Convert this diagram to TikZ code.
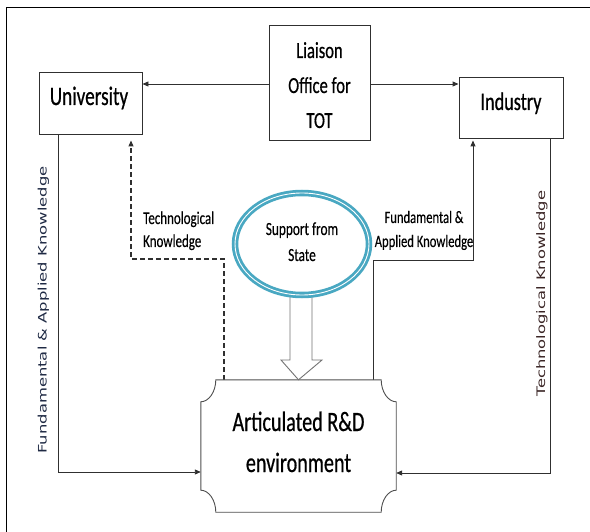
\documentclass[tikz,border=0pt]{standalone}
\usepackage{fontspec}
\setmainfont{Carlito}
\newfontfamily\cf[FakeStretch=0.72,FakeBold=0.25]{Carlito}
\newfontfamily\cfb[FakeStretch=0.72,FakeBold=0.6]{Carlito}
\newfontfamily\vf[FakeStretch=1.4]{DejaVu Sans}
\usetikzlibrary{arrows.meta,shapes.geometric,calc}
\definecolor{ring}{HTML}{49A8C2}
\definecolor{ln}{HTML}{303030}
\definecolor{navytxt}{HTML}{1F2A44}
\definecolor{browntxt}{HTML}{3B2626}
\begin{document}
\begin{tikzpicture}[x=1pt,y=-1pt,
  box/.style={draw=ln, line width=0.9pt, rectangle, inner sep=0pt},
  arr/.style={draw=ln, line width=0.9pt, -{Triangle[length=6pt,width=5pt]}},
  txt/.style={inner sep=0pt, anchor=base, align=center, text=black},
  vtxt/.style={inner sep=0pt, anchor=base, rotate=90, font=\vf\fontsize{11.7}{14}\selectfont}]
\useasboundingbox (0,0) rectangle (590,532);
% frame
\draw[line width=1.5pt, black] (6.5,532) -- (6.5,7.5) -- (590,7.5);

% boxes
\node[box, minimum width=103pt, minimum height=62pt] (univ) at (90.5,103) {};
\node[txt, font=\cfb\fontsize{26.7}{32}\selectfont] (univt) at (89,105) {University};
\node[box, minimum width=101pt, minimum height=115pt] (lia) at (319.5,82.5) {};
\node[txt, font=\cfb\fontsize{23}{35}\selectfont] (liat) at (319.5,128) {Liaison\\Office for\\TOT};
\node[box, minimum width=104pt, minimum height=61pt] (ind) at (511,107.5) {};
\node[txt, font=\cfb\fontsize{25.3}{30}\selectfont] (indt) at (511,110) {Industry};

% R&D plaque
\node[minimum width=195pt, minimum height=132pt, inner sep=0pt] (rd) at (298.5,446) {};

% coordinates
\coordinate (ay) at (0,84);
\coordinate (lx) at (58,472);
\coordinate (rx) at (550,473);
\coordinate (d1) at (224,259);
\coordinate (d2) at (131,259);
\coordinate (s1) at (373,260);
\coordinate (s2) at (473,260);

% connectors
\draw[arr] (lia.west |- ay) -- (univ.east |- ay);
\draw[arr] (lia.east |- ay) -- (ind.west |- ay);
\draw[arr] (univ.south -| lx) |- (rd.west |- lx);
\draw[arr] (ind.south -| rx) |- (rd.east |- rx);
\draw[arr, line width=1.1pt, dash pattern=on 5pt off 3pt, shorten >=6pt] (rd.north -| d1) |- (d2) -- (univ.south -| d2);
\draw[arr, shorten >=2pt] (rd.north -| s1) |- (s2) -- (ind.south -| s2);

% plaque shape
\draw[draw=ln!85, line width=0.9pt, fill=white]
  ($(rd.north west)+(15,0)$) -- ($(rd.north east)+(-15,0)$)
  .. controls ($(rd.north east)+(-15,12)$) and ($(rd.north east)+(-8,22)$) .. ($(rd.north east)+(0,22)$)
  -- ($(rd.south east)+(0,-22)$)
  .. controls ($(rd.south east)+(-8,-22)$) and ($(rd.south east)+(-15,-12)$) .. ($(rd.south east)+(-15,0)$)
  -- ($(rd.south west)+(15,0)$)
  .. controls ($(rd.south west)+(15,-12)$) and ($(rd.south west)+(8,-22)$) .. ($(rd.south west)+(0,-22)$)
  -- ($(rd.north west)+(0,22)$)
  .. controls ($(rd.north west)+(8,22)$) and ($(rd.north west)+(15,12)$) .. cycle;
\node[txt, font=\cfb\fontsize{28}{41}\selectfont] (rdt) at (298.5,472) {Articulated R\&D\\environment};

% hollow arrow from support
\draw[draw=black!55, line width=0.9pt, fill=white]
  (290,296) -- (290,360) -- (281,360) -- (rd.north) -- (322,360) -- (312,360) -- (312,296);

% support ellipse
\node[ellipse, draw=ring, line width=2.8pt, double=white, double distance=0.9pt,
      fill=white, minimum width=134pt, minimum height=102pt, inner sep=0pt] (sup) at (302,244) {};
\node[txt, font=\cf\fontsize{18.5}{26}\selectfont] (supt) at (302,261) {Support from\\State};

% labels
\node[txt, anchor=base west, align=left, font=\cf\fontsize{18}{23}\selectfont] (tk) at (143,247) {Technological\\Knowledge};
\node[txt, font=\cf\fontsize{17.5}{24}\selectfont] (fak) at (424,247) {Fundamental \&\\Applied Knowledge};

% rotated labels
\node[vtxt, text=navytxt] (lrot) at (46.5,310) {Fundamental \& Applied Knowledge};
\node[vtxt, text=browntxt] (rrot) at (545,293.5) {Technological Knowledge};
\end{tikzpicture}
\end{document}
